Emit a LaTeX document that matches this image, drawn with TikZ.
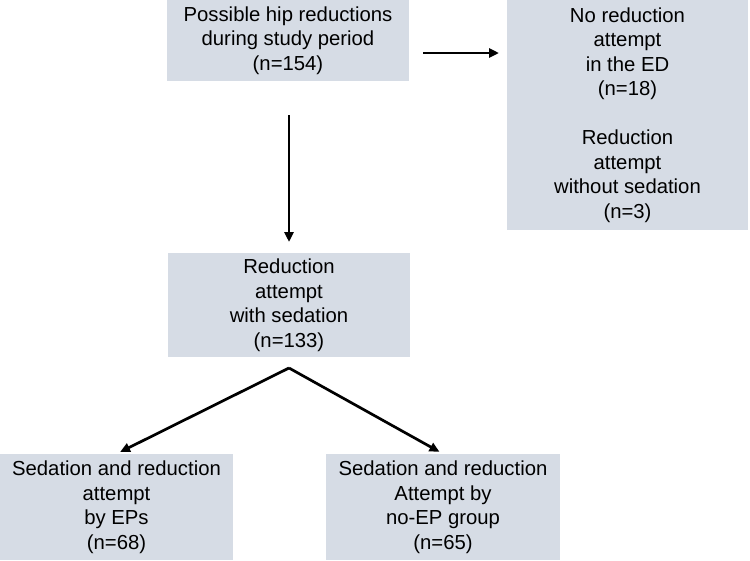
\documentclass[tikz,border=0pt]{standalone}
\usepackage{fontspec}
\setmainfont{Liberation Sans}
\usetikzlibrary{arrows.meta}
\definecolor{boxfill}{HTML}{D6DCE5}
\begin{document}
\begin{tikzpicture}[x=1pt,y=-1pt,
  flowbox/.style={fill=boxfill, draw=none, inner sep=0pt, align=center,
    font=\fontsize{20.3}{24.5}\selectfont, anchor=center},
  arr/.style={line width=2.7pt, -{Triangle[length=10pt,width=9pt]}}]
\useasboundingbox (0,0) rectangle (750,560);
\node[flowbox, minimum width=242pt, minimum height=81pt] (b1) at (288,40.5)
  {Possible hip reductions\\during study period\\(n=154)};
\node[flowbox, minimum width=241pt, minimum height=230pt] (b2) at (627.5,115)
  {No reduction\\attempt\\in the ED\\(n=18)\\[24.5pt]Reduction\\attempt\\without sedation\\(n=3)};
\node[flowbox, minimum width=242pt, minimum height=104pt] (b3) at (289,305)
  {Reduction\\attempt\\with sedation\\(n=133)};
\node[flowbox, minimum width=233pt, minimum height=106pt] (b4) at (116.5,507)
  {Sedation and reduction\\attempt\\by EPs\\(n=68)};
\node[flowbox, minimum width=234pt, minimum height=106pt] (b5) at (443,507)
  {Sedation and reduction\\Attempt by\\no-EP group\\(n=65)};
\coordinate (r1) at (423,53);
\coordinate (r2) at (499,53);
\coordinate (d1) at (289,115);
\coordinate (d2) at (289,242);
\coordinate (apex) at (289,368);
\draw[arr] (r1) -- (r2);
\draw[arr] (d1) -- (d2);
\draw[arr, shorten >=4pt] (apex) -- (b4.north);
\draw[arr, shorten >=4pt] (apex) -- (b5.north);
\end{tikzpicture}
\end{document}
